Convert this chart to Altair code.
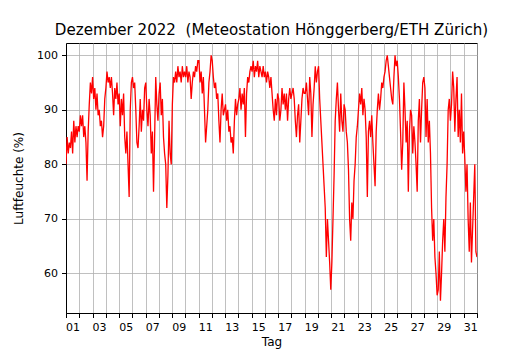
import altair as alt
import pandas as pd

# Relative humidity (%), 12 samples per day (2-hourly)
week1 = [
    80, 85, 82, 84, 83, 86, 82, 88, 84, 87, 85, 87,   # 01
    86, 89, 87, 89, 85, 87, 84, 77, 86, 91, 95, 93,   # 02
    96, 92, 94, 90, 93, 89, 90, 87, 88, 85, 87, 92,   # 03
    94, 97, 95, 96, 94, 96, 93, 89, 94, 92, 95, 91,   # 04
    93, 87, 92, 89, 93, 85, 82, 86, 80, 74, 90, 95,   # 05
    96, 94, 95, 90, 84, 83, 87, 92, 86, 90, 88, 94,   # 06
    95, 90, 87, 92, 89, 82, 86, 75, 85, 96, 91, 88,   # 07
]
week2 = [
    93, 95, 89, 92, 85, 82, 80, 72, 78, 88, 82, 80,   # 08
    91, 96, 95, 97, 95, 98, 96, 97, 95, 98, 96, 97,   # 09
    96, 98, 95, 97, 96, 92, 95, 97, 96, 98, 97, 99,   # 10
    99, 95, 97, 93, 96, 90, 84, 87, 90, 95, 97, 100,  # 11
    99, 96, 94, 95, 92, 93, 88, 84, 90, 93, 89, 90,   # 12
    91, 88, 90, 86, 87, 84, 85, 82, 88, 92, 89, 91,   # 13
    92, 94, 90, 93, 91, 94, 85, 93, 96, 95, 97, 98,   # 14
]
week3 = [
    97, 99, 96, 98, 97, 99, 96, 98, 97, 96, 98, 96,   # 15
    97, 95, 97, 96, 94, 96, 93, 90, 88, 92, 89, 93,   # 16
    92, 88, 90, 94, 91, 93, 90, 93, 88, 92, 94, 92,   # 17
    93, 94, 92, 88, 85, 89, 91, 84, 88, 92, 94, 93,   # 18
    93, 95, 92, 89, 96, 93, 85, 91, 94, 98, 95, 97,   # 19
    98, 92, 88, 84, 80, 76, 72, 63, 70, 66, 62, 57,   # 20
    62, 70, 78, 88, 92, 95, 90, 86, 93, 88, 86, 91,   # 21
]
week4 = [
    90, 86, 84, 79, 70, 66, 73, 70, 77, 80, 85, 87,   # 22
    90, 93, 91, 94, 89, 92, 90, 85, 74, 86, 88, 85,   # 23
    89, 84, 80, 76, 86, 90, 93, 90, 92, 95, 94, 96,   # 24
    97, 99, 100, 98, 96, 94, 92, 91, 96, 100, 98, 99, # 25
    96, 92, 86, 79, 84, 95, 90, 84, 88, 75, 86, 90,   # 26
    89, 82, 87, 84, 80, 75, 88, 92, 84, 90, 95, 96,   # 27
    94, 85, 92, 84, 88, 82, 72, 66, 70, 63, 60, 56,   # 28
]
week5 = [
    57, 64, 55, 60, 66, 70, 64, 74, 80, 90, 92, 88,   # 29
    91, 97, 94, 86, 92, 96, 85, 90, 84, 93, 82, 86,   # 30
    81, 75, 80, 70, 64, 73, 62, 68, 74, 80, 64, 63,   # 31
]

values = week1 + week2 + week3 + week4 + week5
n = len(values)
t = [i * 31 / (n - 1) for i in range(n)]
df = pd.DataFrame({"t": t, "rh": values})

label_expr = ("(datum.value % 2 == 0 && datum.value < 31) ? "
              "((datum.value < 9 ? '0' : '') + (datum.value + 1)) : ''")

chart = alt.Chart(df).mark_line(color="#ff0000", strokeWidth=1.3, clip=True).encode(
    x=alt.X("t:Q",
            scale=alt.Scale(domain=[0, 31], nice=False, zero=False),
            axis=alt.Axis(values=list(range(32)), labelExpr=label_expr,
                          labelOffset=6.6, labelFlush=False, labelOverlap=False,
                          title="Tag", labelPadding=4, titlePadding=4)),
    y=alt.Y("rh:Q",
            scale=alt.Scale(domain=[52.75, 102.25], nice=False, zero=False),
            axis=alt.Axis(values=[60, 70, 80, 90, 100], title="Luftfeuchte (%)",
                          labelPadding=4, titlePadding=11)),
).properties(
    width=411, height=270,
    title=alt.TitleParams(text="Dezember 2022 \u00a0(Meteostation Hönggerberg/ETH Zürich)",
                          font="DejaVu Sans", fontSize=15.1, fontWeight="normal",
                          color="black", offset=5),
    autosize="none",
    padding={"left": 66, "top": 43, "right": 53, "bottom": 37},
).configure_axis(
    grid=True, gridColor="#b0b0b0", gridWidth=0.8,
    domainColor="black", domainWidth=1, tickColor="black", tickSize=4.5,
    labelFont="DejaVu Sans", labelFontSize=11, labelColor="black",
    titleFont="DejaVu Sans", titleFontSize=12, titleFontWeight="normal", titleColor="black",
).configure_view(stroke="black", strokeWidth=1)

chart.save("out.html", embed_options={"renderer": "svg", "actions": False})
